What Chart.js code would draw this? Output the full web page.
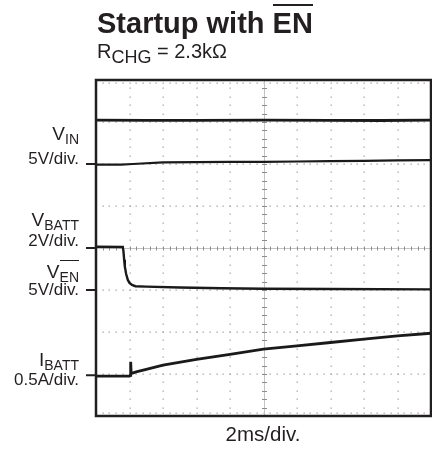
<!DOCTYPE html>
<html>
<head>
<meta charset="utf-8">
<script src="https://cdn.jsdelivr.net/npm/chart.js@4.4.1/dist/chart.umd.min.js"></script>
<style>
  html, body { margin: 0; padding: 0; background: #fff; }
  #wrap { position: relative; width: 432px; height: 449px; font-family: "Liberation Sans", Arial, sans-serif; color: #231f20; }
  #scope { position: absolute; left: 0; top: 0; }
  .t { position: absolute; white-space: nowrap; line-height: 1; }
  .r { right: 353px; text-align: right; }
  .lab { font-size: 19px; }
  .lab span { position: relative; top: 4px; font-size: 14px; }
  .div { font-size: 17px; }
  .bar { position: relative; }
  .bar::before { content: ''; position: absolute; left: 0; right: 0; border-top: 1.5px solid #231f20; }
</style>
</head>
<body>
<div id="wrap">
  <canvas id="scope" width="432" height="449"></canvas>

  <div class="t" style="left:97px; top:8.5px; font-size:29px; font-weight:bold;">Startup with <span class="bar" id="tbar">EN</span></div>
  <div class="t" style="left:97px; top:41.1px; font-size:20px;">R<span style="position:relative; top:4.7px; font-size:18px;">CHG</span> = 2.3kΩ</div>

  <div class="t r lab" style="top:123.9px;">V<span>IN</span></div>
  <div class="t r div" style="top:149.9px;">5V/div.</div>

  <div class="t r lab" style="top:209.9px;">V<span>BATT</span></div>
  <div class="t r div" style="top:232.3px;">2V/div.</div>

  <div class="t r lab" style="top:261.9px;">V<span class="bar" id="enbar">EN</span></div>
  <div class="t r div" style="top:280.6px;">5V/div.</div>

  <div class="t r lab" style="top:350.4px;">I<span>BATT</span></div>
  <div class="t r div" style="top:370.6px;">0.5A/div.</div>

  <div class="t" style="left:163px; width:200px; text-align:center; top:424.4px; font-size:20.5px;">2ms/div.</div>
</div>
<style>
  #tbar::before { top: -2.2px; border-top-width: 2.5px; }
  #enbar::before { top: -9px; }
</style>
<script>
// time base: 2ms/div, 10 divisions
var timeSpan = [0, 20];
var divsX = 10;
var divsY = 8;

// V_IN  (5V/div, ground at division 6)
var vinTime  = [0, 3, 6, 10, 14, 17, 20];
var vinVolts = [5.22, 5.2, 5.2, 5.22, 5.2, 5.18, 5.22];

// V_BATT (2V/div, ground at division 4)
var vbattTime  = [0, 1.5, 2.2, 4, 6, 8, 10, 12, 14, 16, 18, 20];
var vbattVolts = [3.97, 3.97, 4.0, 4.08, 4.09, 4.1, 4.1, 4.12, 4.14, 4.15, 4.17, 4.18];

// V_EN (5V/div, ground at division 3)
var venTime  = [0, 1.6, 1.64, 1.68, 1.72, 1.8, 1.9, 2.0, 2.15, 2.35, 3, 5, 7.5, 10, 14, 20];
var venVolts = [5.15, 5.12, 4.6, 3.6, 2.8, 1.9, 1.2, 0.85, 0.6, 0.45, 0.4, 0.3, 0.2, 0.15, 0.12, 0.08];

// I_BATT (0.5A/div, ground just under division 1)
var ibattTime = [0, 2.0, 2.05, 2.07, 2.1, 2.4, 3, 4, 6, 8, 10, 12, 14, 16, 18, 20];
var ibattAmps = [-0.01, -0.01, 0.0, 0.16, 0.02, 0.04, 0.07, 0.12, 0.19, 0.25, 0.31, 0.35, 0.39, 0.43, 0.47, 0.5];

var channels = [
  { t: vinTime,   v: vinVolts,   ground: 6,    perDiv: 5,   width: 2.8 },
  { t: vbattTime, v: vbattVolts, ground: 4,    perDiv: 2,   width: 2.2 },
  { t: venTime,   v: venVolts,   ground: 3,    perDiv: 5,   width: 2.4 },
  { t: ibattTime, v: ibattAmps,  ground: 0.97, perDiv: 0.5, width: 2.8 }
];

function toPoints(ch) {
  var pts = [];
  for (var i = 0; i < ch.t.length; i++) {
    pts.push({ x: ch.t[i], y: ch.ground + ch.v[i] / ch.perDiv });
  }
  return pts;
}

// scope graticule, frame and ground markers
var scopeGrid = {
  id: 'scopeGrid',
  beforeDatasetsDraw: function(chart) {
    var ctx = chart.ctx, xs = chart.scales.x, ys = chart.scales.y, a = chart.chartArea;
    var stepX = (timeSpan[1] - timeSpan[0]) / divsX;
    ctx.save();
    ctx.fillStyle = '#a4a4a4';
    // dotted vertical divisions
    for (var i = 1; i < divsX; i++) {
      if (i === divsX / 2) continue;
      var px = Math.round(xs.getPixelForValue(i * stepX));
      for (var k = 1; k < divsY * 5; k++) {
        var py = Math.round(ys.getPixelForValue(k / 5));
        ctx.fillRect(px - 0.5, py - 0.5, 1.3, 1.3);
      }
    }
    // dotted horizontal divisions + edge rows
    for (var j = 0; j <= divsY; j++) {
      if (j === divsY / 2) continue;
      var py2 = Math.round(ys.getPixelForValue(j));
      if (j === 0) py2 = a.bottom - 3;
      if (j === divsY) py2 = a.top + 3;
      for (var m = 1; m < divsX * 5; m++) {
        var px2 = Math.round(xs.getPixelForValue(m * stepX / 5));
        ctx.fillRect(px2 - 0.5, py2 - 0.5, 1.3, 1.3);
      }
    }
    // center cross with ticks
    var cx = Math.round(xs.getPixelForValue(timeSpan[1] / 2)) + 0.5;
    var cy = Math.round(ys.getPixelForValue(divsY / 2)) + 0.5;
    ctx.strokeStyle = '#c4c4c4';
    ctx.lineWidth = 1;
    ctx.beginPath();
    ctx.moveTo(cx, a.top); ctx.lineTo(cx, a.bottom);
    ctx.moveTo(a.left, cy); ctx.lineTo(a.right, cy);
    ctx.stroke();
    ctx.strokeStyle = '#8c8c8c';
    ctx.beginPath();
    for (var q = 1; q < divsY * 5; q++) {
      var ty = Math.round(ys.getPixelForValue(q / 5)) + 0.5;
      ctx.moveTo(cx - 2.5, ty); ctx.lineTo(cx + 2.5, ty);
    }
    for (var p = 1; p < divsX * 5; p++) {
      var tx = Math.round(xs.getPixelForValue(p * stepX / 5)) + 0.5;
      ctx.moveTo(tx, cy - 2); ctx.lineTo(tx, cy + 2);
    }
    ctx.stroke();
    ctx.restore();
  },
  afterDatasetsDraw: function(chart) {
    var ctx = chart.ctx, ys = chart.scales.y, a = chart.chartArea;
    ctx.save();
    ctx.strokeStyle = '#231f20';
    ctx.lineWidth = 2.5;
    ctx.strokeRect(a.left, a.top, a.right - a.left, a.bottom - a.top);
    ctx.lineWidth = 2.2;
    ctx.beginPath();
    channels.forEach(function(ch) {
      var gy = ys.getPixelForValue(ch.ground);
      ctx.moveTo(a.left - 10, gy); ctx.lineTo(a.left, gy);
    });
    ctx.stroke();
    ctx.restore();
  }
};

new Chart(document.getElementById('scope').getContext('2d'), {
  type: 'line',
  data: {
    datasets: channels.map(function(ch) {
      return {
        data: toPoints(ch),
        borderColor: '#1a1a1a',
        borderWidth: ch.width,
        pointRadius: 0,
        tension: 0,
        fill: false
      };
    })
  },
  options: {
    responsive: false,
    animation: false,
    layout: { padding: { left: 96, right: 1, top: 80, bottom: 33 } },
    scales: {
      x: { type: 'linear', min: timeSpan[0], max: timeSpan[1], display: false },
      y: { type: 'linear', min: 0, max: divsY, display: false }
    },
    plugins: { legend: { display: false }, tooltip: { enabled: false } }
  },
  plugins: [scopeGrid]
});
</script>
</body>
</html>
